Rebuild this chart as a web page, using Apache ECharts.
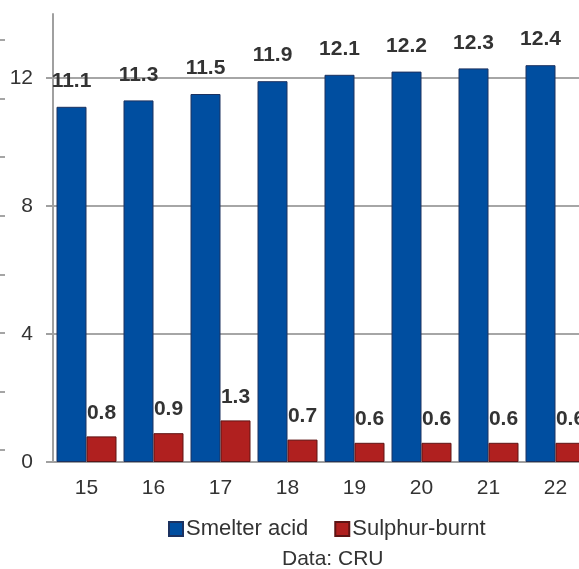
<!DOCTYPE html>
<html><head><meta charset="utf-8">
<script src="https://cdn.jsdelivr.net/npm/echarts@6/dist/echarts.min.js"></script>
<style>html,body{margin:0;padding:0;background:#fff}#c{width:579px;height:569px}</style>
</head><body><div id="c"></div>
<script>
const categories = ['15','16','17','18','19','20','21','22'];
const smelterAcid = [11.1, 11.3, 11.5, 11.9, 12.1, 12.2, 12.3, 12.4];
const sulphurBurnt = [0.8, 0.9, 1.3, 0.7, 0.6, 0.6, 0.6, 0.6];
const yTicks = [0, 4, 8, 12];
const ghostTicks = [0, 1, 2, 3, 4, 5, 6, 7];

const font = 'Liberation Sans, Arial, sans-serif';
const chart = echarts.init(document.getElementById('c'));
chart.setOption({
  animation: false,
  textStyle: {fontFamily: font},
  title: {
    text: 'Data: CRU', left: 282, top: 549, padding: 0,
    textStyle: {fontFamily: font, fontSize: 21, fontWeight: 'normal', color: '#333'}
  },
  legend: {
    left: 163, top: 513, itemWidth: 14, itemHeight: 14, itemGap: 26,
    icon: 'rect',
    textStyle: {fontFamily: font, fontSize: 22, color: '#333', padding: [0,0,0,-2]},
    data: ['Smelter acid', 'Sulphur-burnt']
  },
  grid: [
    {left: 53, width: 536, top: 14, height: 448, outerBoundsMode: 'none', containLabel: false},
    {left: 0, width: 5, top: 40, height: 410, outerBoundsMode: 'none', containLabel: false}
  ],
  xAxis: [{
    type: 'category', data: categories, gridIndex: 0,
    axisLine: {lineStyle: {color: '#a0a0a0', width: 2}},
    axisTick: {length: 6, lineStyle: {color: '#a0a0a0', width: 2}},
    axisLabel: {fontFamily: font, fontSize: 21, color: '#333', margin: 16}
  }, {
    type: 'category', data: ['x'], gridIndex: 1,
    axisLine: {show: false},
    axisTick: {length: 6, lineStyle: {color: '#888', width: 1.5}},
    axisLabel: {show: false}
  }],
  yAxis: [{
    type: 'value', min: 0, max: 14, interval: 4, gridIndex: 0,
    axisLine: {show: true, lineStyle: {color: '#a0a0a0', width: 2}},
    axisTick: {show: true, length: 7, customValues: yTicks, lineStyle: {color: '#a0a0a0', width: 2}},
    axisLabel: {fontFamily: font, fontSize: 21, color: '#333', margin: 20, customValues: yTicks},
    splitLine: {show: true, lineStyle: {color: '#a6a6a6', width: 2}}
  }, {
    type: 'value', min: ghostTicks[0], max: ghostTicks[ghostTicks.length - 1], interval: 1, gridIndex: 1, position: 'right',
    axisLine: {show: false},
    axisTick: {show: true, inside: true, length: 5, lineStyle: {color: '#888', width: 1.5}},
    axisLabel: {show: false},
    splitLine: {show: false}
  }],
  series: [{
    name: 'Smelter acid', type: 'bar', data: smelterAcid, barWidth: 30, barGap: '0%',
    itemStyle: {color: '#004EA0', borderColor: '#1c3260', borderWidth: 1},
    label: {show: true, position: 'top', distance: 15, fontFamily: font, fontSize: 21, fontWeight: 'bold', color: '#333'}
  }, {
    name: 'Sulphur-burnt', type: 'bar', data: sulphurBurnt, barWidth: 30, barGap: '0%',
    itemStyle: {color: '#B0201F', borderColor: '#5e1414', borderWidth: 1},
    label: {show: true, position: 'top', distance: 13, fontFamily: font, fontSize: 21, fontWeight: 'bold', color: '#333'}
  }]
});
</script></body></html>
